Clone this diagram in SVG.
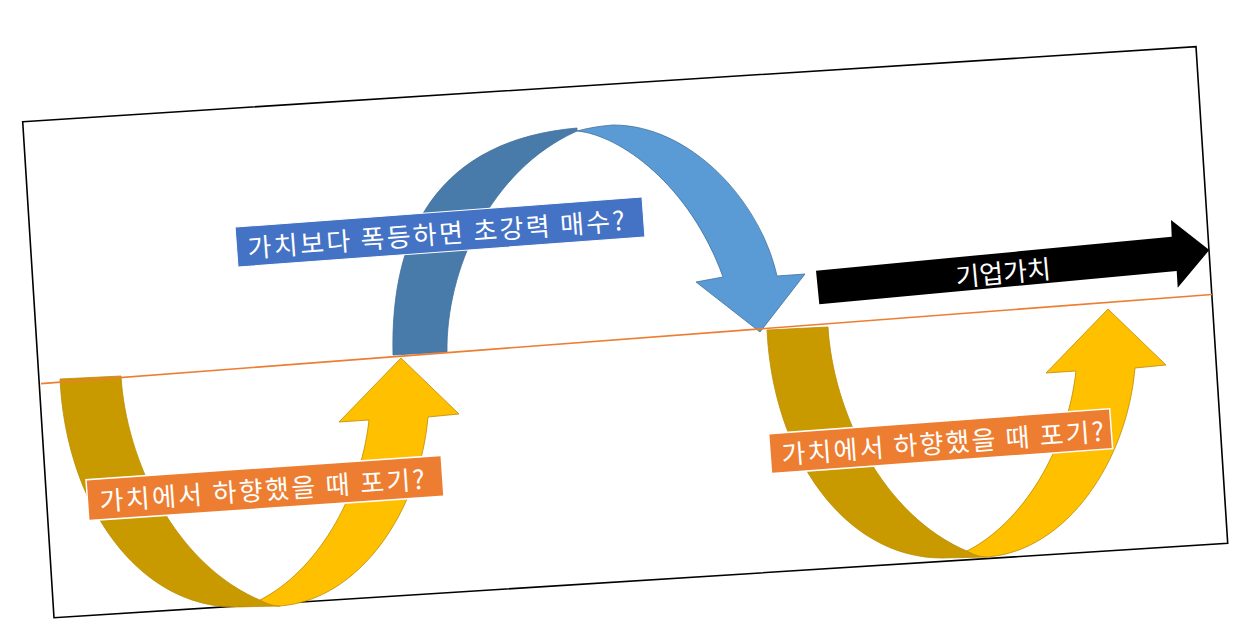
<svg xmlns="http://www.w3.org/2000/svg" width="1259" height="642" viewBox="0 0 1259 642">
<defs>
<style>
.frame{fill:#FFFFFF;stroke:#000000;stroke-width:1.6}
.gdark{fill:#C89A00;stroke:#BC8C00;stroke-width:0.8}
.glight{fill:#FFC000;stroke:#BC8C00;stroke-width:0.8}
.bdark{fill:#487BA9;stroke:#41719C;stroke-width:0.8}
.blight{fill:#5B9BD5;stroke:#41719C;stroke-width:0.8}
.lbl{font-family:"Noto Sans CJK KR","Noto Sans",sans-serif;font-size:26px;fill:#FFFFFF}
.obox{fill:#ED7D31;stroke:#FFFFFF;stroke-width:1.5}
.bbox{fill:#4472C4;stroke:#FFFFFF;stroke-width:1}
</style>
<path id="uarrowDark" d="M60,379 L121,376 C126,460 175,565 262,601 C268,604 274,606 280,606 L235,607 C138,607 66,505 60,379 Z"/>
<path id="uarrowLight" d="M260,600 C315,572 360,500 369,420 L339,422 L401,358 L459,414 L428,417 C420,510 360,600 280,606 C272,606 265,603 260,600 Z"/>
</defs>
<rect width="1259" height="642" fill="#FFFFFF"/>
<polygon id="frame" class="frame" points="22.7,121.7 1196,46.7 1227.7,543.3 54,617.7"/>
<g id="arrow-left-u">
<use href="#uarrowDark" class="gdark"/>
<use href="#uarrowLight" class="glight"/>
</g>
<g id="arrow-right-u" transform="translate(707,-49)">
<use href="#uarrowDark" class="gdark"/>
<use href="#uarrowLight" class="glight"/>
</g>
<g id="arrow-blue-arc">
<path class="bdark" d="M393,355 L447,352 C446,270 490,170 577,131 L577,128 C440,140 390,230 393,355 Z"/>
<path class="blight" d="M577,131 C620,135 690,185 723,277 L696,282 L760,332 L805,274 L777,276 C760,200 690,125 613,125 C600,126 588,128 577,131 Z"/>
</g>
<g id="connectors">
<line x1="41" y1="383.6" x2="1212" y2="294.5" stroke="#ED7D31" stroke-width="1.6"/>
</g>
<g id="node-enterprise-value">
<polygon fill="#000000" points="816,270.7 1171.7,236.7 1171,220 1209.3,250 1177.7,287.7 1176.7,271 819.3,304.3"/>
<text class="lbl" transform="translate(1003,271) rotate(-5.2)" text-anchor="middle" dominant-baseline="central">기업가치</text>
</g>
<g id="node-buy" transform="translate(440,232) rotate(-4.22)">
<rect class="bbox" x="-204" y="-20" width="408" height="40"/>
<text class="lbl" x="-4" y="0" text-anchor="middle" dominant-baseline="central" textLength="378" lengthAdjust="spacing">가치보다 폭등하면 초강력 매수?</text>
</g>
<g id="node-giveup-left" transform="translate(265,488) rotate(-3.92)">
<rect class="obox" x="-178" y="-20.5" width="356" height="41"/>
<text class="lbl" x="-3" y="0" text-anchor="middle" dominant-baseline="central" textLength="326" lengthAdjust="spacing">가치에서 하향했을 때 포기?</text>
</g>
<g id="node-giveup-right" transform="translate(940.6,441.2) rotate(-4.19)">
<rect class="obox" x="-171" y="-20" width="342" height="40"/>
<text class="lbl" x="2" y="0" text-anchor="middle" dominant-baseline="central" textLength="323" lengthAdjust="spacing">가치에서 하향했을 때 포기?</text>
</g>
</svg>
